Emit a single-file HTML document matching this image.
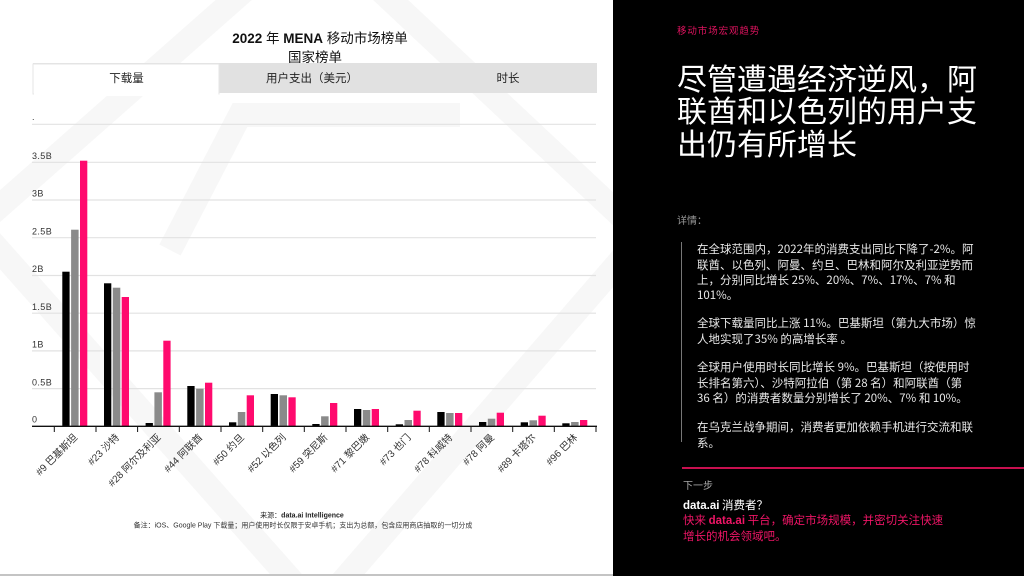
<!DOCTYPE html>
<html><head><meta charset="utf-8">
<style>
html,body{margin:0;padding:0;}
body{width:1024px;height:576px;position:relative;overflow:hidden;background:#fff;font-family:"Liberation Sans","Noto Sans CJK SC",sans-serif;}
#left{position:absolute;left:0;top:0;width:613px;height:576px;}
#right{position:absolute;left:613px;top:0;width:411px;height:576px;background:#000;}
.abs{position:absolute;white-space:nowrap;}
.cat{left:64px;top:26px;font-size:9.5px;color:#e0135f;letter-spacing:0.9px;line-height:12px;}
.ttl{left:64px;top:60.5px;font-size:30px;line-height:32.5px;color:#fff;font-family:"Noto Sans CJK SC",sans-serif;}
.det{left:64px;top:215px;font-size:10px;color:#9a9a9a;line-height:14px;}
.vline{left:68px;top:242px;width:1px;height:200px;background:#777;}
.para{left:84px;font-size:11.5px;line-height:15.3px;color:#e8e8e8;font-family:"Noto Sans CJK SC",sans-serif;}
.pline{left:69px;top:467px;width:342px;height:1.5px;background:#c8104f;}
.next{left:70px;top:480px;font-size:10px;color:#aaa;line-height:14px;}
.q{left:70px;top:498px;font-size:11.5px;color:#fff;line-height:15px;font-family:"Noto Sans CJK SC",sans-serif;}
.pink{left:70px;top:513px;font-size:11.5px;color:#ee1566;line-height:14.5px;font-family:"Noto Sans CJK SC",sans-serif;}
b{font-family:"Liberation Sans",sans-serif;font-weight:bold;}
</style></head><body>
<div id="left">
<svg width="613" height="576" viewBox="0 0 613 576" xmlns="http://www.w3.org/2000/svg" font-family="Liberation Sans, Noto Sans CJK SC, sans-serif">
  <!-- watermark -->
  <g stroke="#f7f7f7" stroke-width="24" fill="none" stroke-linecap="butt">
    <polyline points="245,-10 -10,215"/>
    <polyline points="380,-10 625,220"/>
    <polyline points="-10,240 300,590"/>
    <polyline points="625,255 335,590"/>
    <polyline points="170,250 240,115 460,115"/>
  </g>
  <!-- title -->
  <text x="320" y="43" text-anchor="middle" font-size="13.5" fill="#111"><tspan font-weight="bold">2022</tspan> 年 <tspan font-weight="bold">MENA</tspan> 移动市场榜单</text>
  <text x="315" y="62" text-anchor="middle" font-size="13.5" fill="#111">国家榜单</text>
  <!-- tabs -->
  <rect x="33" y="63" width="564" height="30" fill="#e1e1e1"/>
  <rect x="33" y="64" width="186" height="30" fill="#fff" stroke="#e6e6e6" stroke-width="1"/>
  <rect x="34" y="88" width="184.5" height="8" fill="#fff"/>
  <text x="126.5" y="82" text-anchor="middle" font-size="11.5" fill="#222">下载量</text>
  <text x="312" y="82" text-anchor="middle" font-size="11.5" fill="#222">用户支出（美元）</text>
  <text x="508" y="82" text-anchor="middle" font-size="11.5" fill="#222">时长</text>
  <!-- gridlines -->
  <g stroke="#e2e2e2" stroke-width="1.2">
    <line x1="32" y1="124.3" x2="596" y2="124.3"/>
    <line x1="32" y1="162.3" x2="596" y2="162.3"/>
    <line x1="32" y1="200" x2="596" y2="200"/>
    <line x1="32" y1="237.7" x2="596" y2="237.7"/>
    <line x1="32" y1="275.5" x2="596" y2="275.5"/>
    <line x1="32" y1="313.2" x2="596" y2="313.2"/>
    <line x1="32" y1="350.9" x2="596" y2="350.9"/>
    <line x1="32" y1="388.6" x2="596" y2="388.6"/>
  </g>
  <g font-size="9" fill="#333" letter-spacing="0.4">
    <text x="32" y="120">.</text>
    <text x="32" y="159">3.5B</text>
    <text x="32" y="196.5">3B</text>
    <text x="32" y="234.5">2.5B</text>
    <text x="32" y="272">2B</text>
    <text x="32" y="310">1.5B</text>
    <text x="32" y="347.5">1B</text>
    <text x="32" y="385.5">0.5B</text>
    <text x="32" y="422.5">0</text>
  </g>
  <!-- bars -->
  <g fill="#000">
    <rect x="62.3" y="271.7" width="7.3" height="154.3"/>
    <rect x="104" y="283.3" width="7.3" height="142.7"/>
    <rect x="145.6" y="423" width="7.3" height="3"/>
    <rect x="187.3" y="386" width="7.3" height="40"/>
    <rect x="229" y="422.3" width="7.3" height="3.7"/>
    <rect x="270.7" y="394" width="7.3" height="32"/>
    <rect x="312.3" y="424" width="7.3" height="2"/>
    <rect x="354" y="409" width="7.3" height="17"/>
    <rect x="395.7" y="424.3" width="7.3" height="1.7"/>
    <rect x="437.3" y="412" width="7.3" height="14"/>
    <rect x="479" y="422" width="7.3" height="4"/>
    <rect x="520.7" y="422.3" width="7.3" height="3.7"/>
    <rect x="562.3" y="423.3" width="7.3" height="2.7"/>
  </g>
  <g fill="#8a8a8a">
    <rect x="71.1" y="229.7" width="7.5" height="196.3"/>
    <rect x="112.8" y="287.7" width="7.5" height="138.3"/>
    <rect x="154.4" y="392.3" width="7.5" height="33.7"/>
    <rect x="196.1" y="388.7" width="7.5" height="37.3"/>
    <rect x="237.8" y="412" width="7.5" height="14"/>
    <rect x="279.5" y="395.3" width="7.5" height="30.7"/>
    <rect x="321.1" y="416.3" width="7.5" height="9.7"/>
    <rect x="362.8" y="410" width="7.5" height="16"/>
    <rect x="404.5" y="420" width="7.5" height="6"/>
    <rect x="446.1" y="413" width="7.5" height="13"/>
    <rect x="487.8" y="418.7" width="7.5" height="7.3"/>
    <rect x="529.5" y="420.3" width="7.5" height="5.7"/>
    <rect x="571.1" y="422" width="7.5" height="4"/>
  </g>
  <g fill="#ff0a6e">
    <rect x="80" y="160.7" width="7.3" height="265.3"/>
    <rect x="121.7" y="297" width="7.3" height="129"/>
    <rect x="163.3" y="340.7" width="7.3" height="85.3"/>
    <rect x="205" y="382.7" width="7.3" height="43.3"/>
    <rect x="246.7" y="395.3" width="7.3" height="30.7"/>
    <rect x="288.4" y="397.3" width="7.3" height="28.7"/>
    <rect x="330" y="403" width="7.3" height="23"/>
    <rect x="371.7" y="409" width="7.3" height="17"/>
    <rect x="413.4" y="410.7" width="7.3" height="15.3"/>
    <rect x="455" y="413" width="7.3" height="13"/>
    <rect x="496.7" y="412.7" width="7.3" height="13.3"/>
    <rect x="538.4" y="415.7" width="7.3" height="10.3"/>
    <rect x="580" y="420" width="7.3" height="6"/>
  </g>
  <!-- axis -->
  <line x1="32" y1="426.3" x2="597" y2="426.3" stroke="#111" stroke-width="1.3"/>
  <g stroke="#111" stroke-width="1">
    <line x1="54.3" y1="426" x2="54.3" y2="432"/>
    <line x1="96" y1="426" x2="96" y2="432"/>
    <line x1="137.6" y1="426" x2="137.6" y2="432"/>
    <line x1="179.3" y1="426" x2="179.3" y2="432"/>
    <line x1="221" y1="426" x2="221" y2="432"/>
    <line x1="262.7" y1="426" x2="262.7" y2="432"/>
    <line x1="304.3" y1="426" x2="304.3" y2="432"/>
    <line x1="346" y1="426" x2="346" y2="432"/>
    <line x1="387.7" y1="426" x2="387.7" y2="432"/>
    <line x1="429.3" y1="426" x2="429.3" y2="432"/>
    <line x1="471" y1="426" x2="471" y2="432"/>
    <line x1="512.7" y1="426" x2="512.7" y2="432"/>
    <line x1="554.3" y1="426" x2="554.3" y2="432"/>
    <line x1="596" y1="426" x2="596" y2="432"/>
  </g>
  <!-- x labels -->
  <g font-size="10" fill="#333" text-anchor="end">
    <text x="78" y="438" transform="rotate(-45 78 438)">#9 巴基斯坦</text>
    <text x="119.8" y="438" transform="rotate(-45 119.8 438)">#23 沙特</text>
    <text x="161.4" y="438" transform="rotate(-45 161.4 438)">#28 阿尔及利亚</text>
    <text x="203.1" y="438" transform="rotate(-45 203.1 438)">#44 阿联酋</text>
    <text x="244.8" y="438" transform="rotate(-45 244.8 438)">#50 约旦</text>
    <text x="286.5" y="438" transform="rotate(-45 286.5 438)">#52 以色列</text>
    <text x="328.1" y="438" transform="rotate(-45 328.1 438)">#59 突尼斯</text>
    <text x="369.8" y="438" transform="rotate(-45 369.8 438)">#71 黎巴嫩</text>
    <text x="411.5" y="438" transform="rotate(-45 411.5 438)">#73 也门</text>
    <text x="453.1" y="438" transform="rotate(-45 453.1 438)">#78 科威特</text>
    <text x="494.8" y="438" transform="rotate(-45 494.8 438)">#78 阿曼</text>
    <text x="536.5" y="438" transform="rotate(-45 536.5 438)">#89 卡塔尔</text>
    <text x="578.1" y="438" transform="rotate(-45 578.1 438)">#96 巴林</text>
  </g>
  <!-- footer -->
  <text x="302" y="517.5" text-anchor="middle" font-size="7" fill="#222">来源：<tspan font-weight="bold">data.ai Intelligence</tspan></text>
  <text x="303" y="527.5" text-anchor="middle" font-size="7" fill="#333">备注：iOS、Google Play 下载量；用户使用时长仅限于安卓手机；支出为总额，包含应用商店抽取的一切分成</text>
  <rect x="0" y="574" width="613" height="2" fill="#c4c4c4"/>
</svg>
</div>
<div id="right">
  <div class="abs cat">移动市场宏观趋势</div>
  <div class="abs ttl">尽管遭遇经济逆风，阿<br>联酋和以色列的用户支<br>出仍有所增长</div>
  <div class="abs det">详情：</div>
  <div class="abs vline"></div>
  <div class="abs para" style="top:242.3px">在全球范围内，2022年的消费支出同比下降了-2%。阿<br>联酋、以色列、阿曼、约旦、巴林和阿尔及利亚逆势而<br>上，分别同比增长 25%、20%、7%、17%、7% 和<br>101%。</div>
  <div class="abs para" style="top:316.3px">全球下载量同比上涨 11%。巴基斯坦（第九大市场）惊<br>人地实现了35% 的高增长率 。</div>
  <div class="abs para" style="top:360.3px">全球用户使用时长同比增长 9%。巴基斯坦（按使用时<br>长排名第六）、沙特阿拉伯（第 28 名）和阿联酋（第<br>36 名）的消费者数量分别增长了 20%、7% 和 10%。</div>
  <div class="abs para" style="top:420.3px">在乌克兰战争期间，消费者更加依赖手机进行交流和联<br>系。</div>
  <div class="abs pline"></div>
  <div class="abs next">下一步</div>
  <div class="abs q"><b>data.ai</b> 消费者？</div>
  <div class="abs pink">快来 <b>data.ai</b> 平台，确定市场规模，并密切关注快速<br>增长的机会领域吧。</div>
</div>
</body></html>
